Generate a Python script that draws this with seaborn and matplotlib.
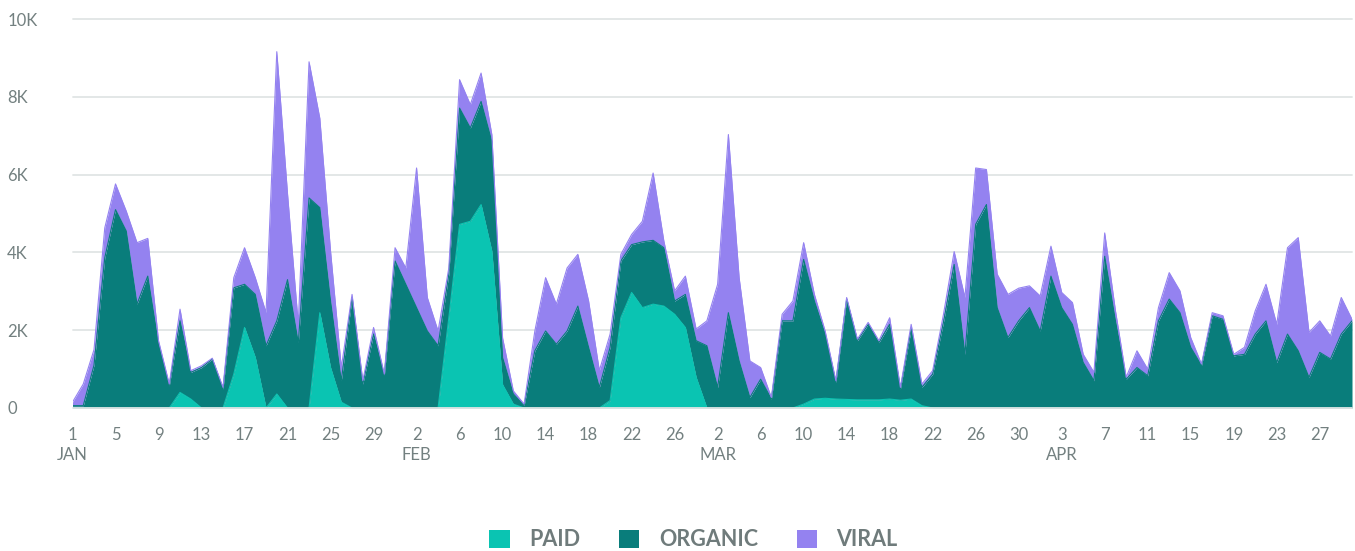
import pandas as pd
import numpy as np
import seaborn as sns
import matplotlib.pyplot as plt
from matplotlib.patches import Patch

# one value per day, Jan 1 .. Apr 30
dates = pd.date_range("2017-01-01", "2017-04-30", freq="D")

paid = [0, 0, 0, 0, 0, 0, 0, 0, 0, 0,
        400, 230, 0, 0, 0, 870, 2070, 1300, 0, 360,
        0, 0, 0, 2450, 1040, 150, 0, 0, 0, 0,
        0, 0, 0, 0, 0, 2320, 4720, 4800, 5230, 4030,
        600, 100, 0, 0, 0, 0, 0, 0, 0, 0,
        190, 2320, 2970, 2580, 2670, 2620, 2410, 2070, 790, 0,
        0, 0, 0, 0, 0, 0, 0, 0, 100, 230,
        250, 230, 220, 210, 210, 210, 230, 200, 230, 60,
        0, 0, 0, 0, 0, 0, 0, 0, 0, 0,
        0, 0, 0, 0, 0, 0, 0, 0, 0, 0,
        0, 0, 0, 0, 0, 0, 0, 0, 0, 0,
        0, 0, 0, 0, 0, 0, 0, 0, 0, 0]

organic = [60, 60, 1100, 3860, 5100, 4550, 2670, 3390, 1640, 570,
           1840, 685, 1040, 1260, 490, 2220, 1110, 1620, 1600, 1880,
           3300, 1680, 5400, 2700, 1710, 550, 2840, 615, 1900, 830,
           3780, 3180, 2580, 1980, 1600, 1120, 2990, 2400, 2650, 2820,
           700, 260, 60, 1470, 1980, 1640, 1980, 2620, 1560, 530,
           1370, 1460, 1230, 1690, 1640, 1500, 340, 850, 940, 1600,
           530, 2450, 1210, 270, 740, 230, 2240, 2240, 3720, 2520,
           1650, 430, 2580, 1520, 1940, 1470, 1920, 290, 1800, 470,
           870, 2200, 3690, 1380, 4720, 5230, 2580, 1810, 2240, 2580,
           1980, 3390, 2580, 2150, 1170, 700, 3900, 2240, 740, 1040,
           830, 2240, 2800, 2450, 1560, 1090, 2370, 2280, 1340, 1380,
           1900, 2240, 1170, 1900, 1470, 790, 1430, 1260, 1900, 2240]

viral = [90, 555, 400, 770, 660, 510, 1580, 970, 90, 45,
         300, 45, 45, 20, 40, 260, 940, 430, 850, 6920,
         2200, 470, 3500, 2300, 1280, 340, 80, 85, 170, 40,
         340, 420, 3590, 860, 380, 160, 730, 600, 730, 180,
         500, 80, 40, 510, 1370, 1030, 1620, 1330, 1190, 430,
         340, 170, 260, 530, 1730, 170, 260, 470, 300, 640,
         2650, 4580, 2140, 940, 300, 40, 170, 510, 430, 170,
         80, 40, 40, 40, 50, 50, 170, 40, 120, 85,
         90, 200, 330, 1460, 1450, 900, 860, 1110, 840, 560,
         900, 770, 390, 560, 210, 215, 600, 260, 50, 430,
         170, 340, 680, 560, 250, 40, 80, 90, 40, 180,
         600, 940, 980, 2220, 2910, 1150, 810, 590, 940, 40]

series_names = ["PAID", "ORGANIC", "VIRAL"]
series_colors = ["#0ac4b2", "#097d7b", "#9482f0"]
y_ticks = [0, 2000, 4000, 6000, 8000, 10000]
y_tick_labels = ["0", "2K", "4K", "6K", "8K", "10K"]

text_grey = "#738080"
grid_grey = "#e1e5e5"

sns.set_theme(style="white")
plt.rcParams["font.family"] = ["Lato", "DejaVu Sans"]

df = pd.DataFrame({"day": np.arange(len(dates)), "PAID": paid,
                   "ORGANIC": organic, "VIRAL": viral})
stacked = df[series_names].cumsum(axis=1)

fig = plt.figure(figsize=(13.55, 5.51), dpi=100)
ax = fig.add_axes([72.5 / 1355, 1 - 408 / 551, (1352 - 72.5) / 1355, (408 - 19) / 551])

lower = np.zeros(len(df))
for name, color in zip(series_names, series_colors):
    upper = stacked[name].values
    ax.fill_between(df["day"], lower, upper, color=color, linewidth=0, zorder=2)
    sns.lineplot(x=df["day"], y=upper, color=color, linewidth=0.8, ax=ax, zorder=3)
    lower = upper

ax.set_xlim(0, len(df) - 1)
ax.set_ylim(0, 10000)
ax.set_yticks(y_ticks)
ax.set_yticklabels(y_tick_labels)
for yv in y_ticks:
    ax.axhline(yv, color=grid_grey, linewidth=1.3, zorder=1 if yv else 4, clip_on=False)

# x ticks every four days, month name under the first tick of each month
tick_days = list(range(0, len(df), 4))
tick_labels = []
seen = set()
for d in tick_days:
    dt = dates[d]
    lab = str(dt.day)
    if dt.month not in seen:
        seen.add(dt.month)
        lab += "\n" + dt.strftime("%b").upper()
    tick_labels.append(lab)
ax.set_xticks(tick_days)
ax.set_xticklabels(tick_labels, linespacing=1.3)

ax.tick_params(axis="x", length=0, pad=14, labelsize=12, labelcolor=text_grey)
ax.tick_params(axis="y", length=0, pad=47, labelsize=12, labelcolor=text_grey)
for lab in ax.get_yticklabels():
    lab.set_horizontalalignment("left")
for lab in ax.get_xticklabels():
    lab.set_verticalalignment("top")
    lab.set_multialignment("center")

sns.despine(ax=ax, left=True, bottom=True)
ax.set_xlabel("")
ax.set_ylabel("")

handles = [Patch(facecolor=c, edgecolor="none", label=n) for n, c in zip(series_names, series_colors)]
leg = fig.legend(handles=handles, loc="center", bbox_to_anchor=(693.5 / 1355, 1 - 540 / 551), ncol=3,
                 frameon=False, handlelength=0.95, handleheight=0.95, handletextpad=0.9,
                 columnspacing=1.8, prop={"size": 15.5, "weight": "bold"})
for t in leg.get_texts():
    t.set_color("#6f7b7b")

fig.savefig("out.png", dpi=100)
